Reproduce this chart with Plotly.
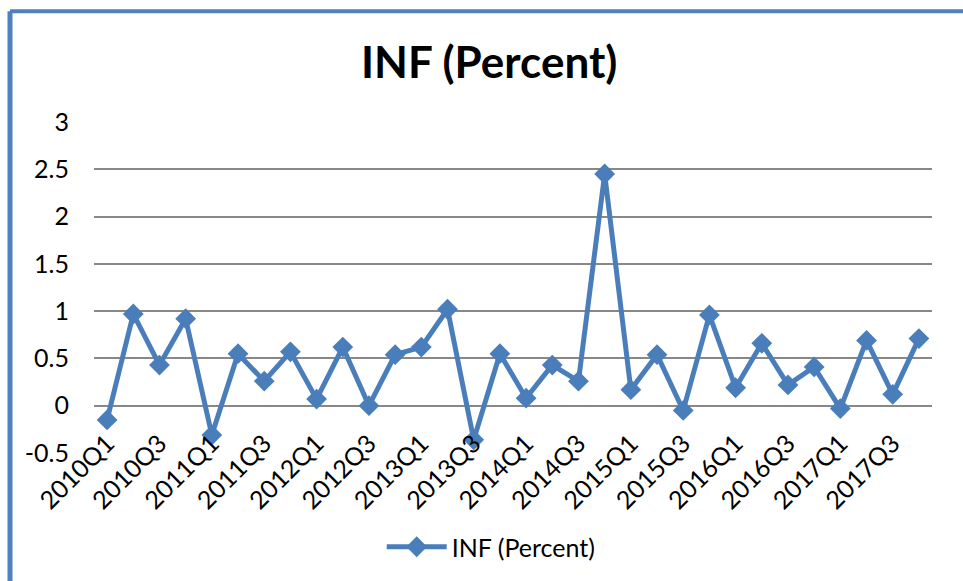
"""Line chart of quarterly inflation (INF, percent), 2010Q1-2017Q4."""

import plotly.graph_objects as go

QUARTERS = [f"{y}Q{q}" for y in range(2010, 2018) for q in range(1, 5)]
INF = [
    -0.15, 0.97, 0.43, 0.92,
    -0.31, 0.55, 0.26, 0.57,
    0.07, 0.62, 0.00, 0.54,
    0.62, 1.02, -0.36, 0.55,
    0.08, 0.43, 0.26, 2.45,
    0.17, 0.54, -0.05, 0.96,
    0.19, 0.66, 0.22, 0.41,
    -0.03, 0.69, 0.12, 0.71,
]
Y_TICKS = [-0.5, 0, 0.5, 1, 1.5, 2, 2.5, 3]
Y_TICK_TEXT = ["-0.5", "0", "0.5", "1", "1.5", "2", "2.5", "3"]
X_TICKS = QUARTERS[::2]

BLUE = "#4A7EBB"
FRAME = "#4F81BD"
GRID = "#888888"
FONT = "Lato"

fig = go.Figure()
fig.add_trace(go.Scatter(
    x=QUARTERS,
    y=INF,
    mode="lines+markers",
    name="INF (Percent)",
    line=dict(color=BLUE, width=5),
    marker=dict(symbol="diamond", size=16, color=BLUE),
))

# outer chart frame (left and top edges visible in the crop)
fx = (10 - 94) / 838
fy = 1 + (122 - 11) / 332
fig.add_shape(type="line", xref="paper", yref="paper",
              x0=fx, x1=fx, y0=-0.5, y1=fy, line=dict(color=FRAME, width=5))
fig.add_shape(type="line", xref="paper", yref="paper",
              x0=fx, x1=1.1, y0=fy, y1=fy, line=dict(color=FRAME, width=4))

fig.update_layout(
    width=963,
    height=581,
    margin=dict(l=94, r=31, t=122, b=127),
    paper_bgcolor="white",
    plot_bgcolor="white",
    font=dict(family=FONT, color="black", size=25),
    title=dict(
        text="INF (Percent)",
        font=dict(family=FONT, size=44, weight="bold", color="black"),
        x=0.508, xref="container", xanchor="center",
        y=1 - 63 / 581, yref="container", yanchor="middle",
    ),
    xaxis=dict(
        type="category",
        range=[-0.5, len(QUARTERS) - 0.5],
        tickmode="array",
        tickvals=X_TICKS,
        tickangle=-45,
        ticklabelstandoff=-30,
        showgrid=False,
        showline=False,
        zeroline=False,
        tickfont=dict(size=25),
    ),
    yaxis=dict(
        range=[-0.5, 3],
        tickmode="array",
        tickvals=Y_TICKS,
        ticktext=Y_TICK_TEXT,
        showgrid=True,
        gridcolor=GRID,
        gridwidth=1.5,
        zeroline=False,
        showline=False,
        ticklabelstandoff=24,
        tickfont=dict(size=25),
    ),
    showlegend=True,
    legend=dict(
        orientation="h",
        x=0.474, xanchor="center",
        y=(454 - 547) / 332, yanchor="middle",
        font=dict(size=25),
        itemwidth=60,
    ),
)

fig.write_html(
    "out.html",
    config={"displayModeBar": False},
    post_script="document.body.style.margin = '0';",
)
